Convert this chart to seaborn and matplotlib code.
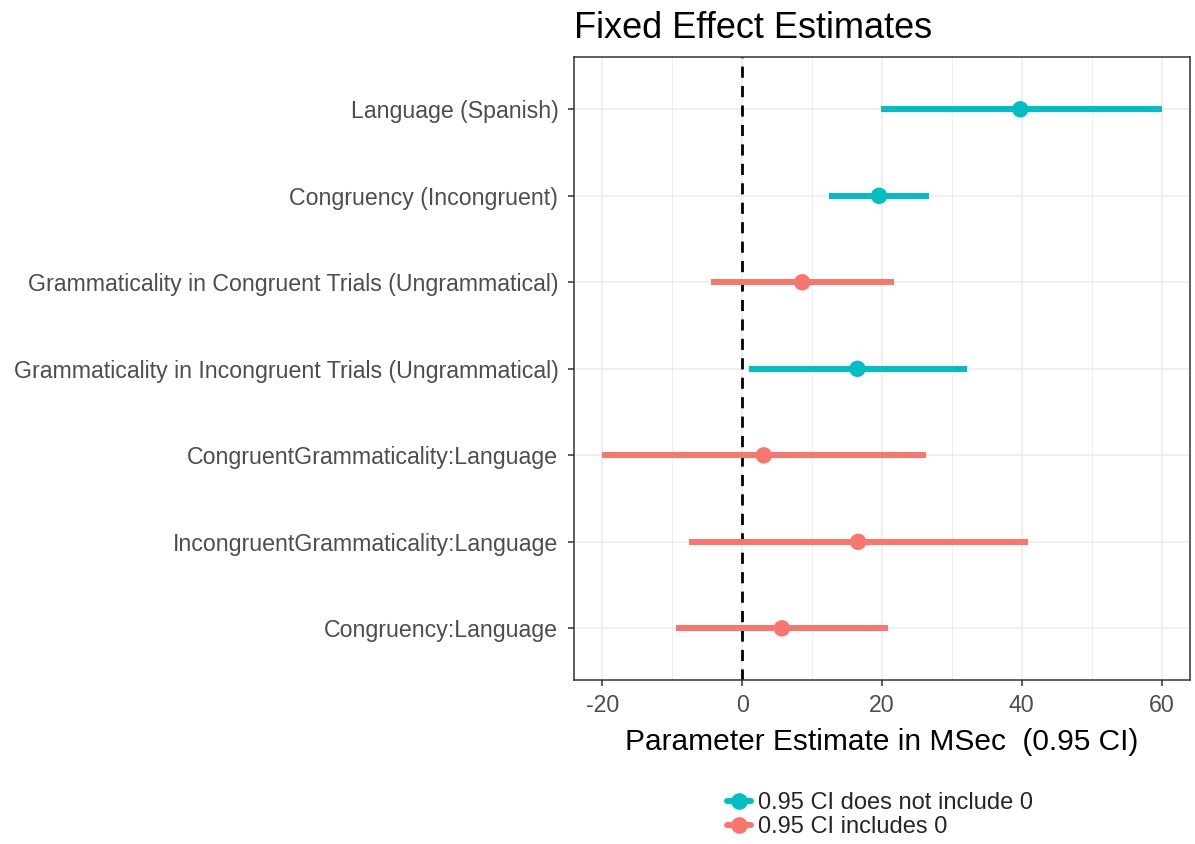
import matplotlib
matplotlib.use("Agg")
import matplotlib.pyplot as plt
import seaborn as sns
import pandas as pd
from matplotlib.lines import Line2D
from matplotlib.ticker import MultipleLocator, FuncFormatter

terms = [
    "Language (Spanish)",
    "Congruency (Incongruent)",
    "Grammaticality in Congruent Trials (Ungrammatical)",
    "Grammaticality in Incongruent Trials (Ungrammatical)",
    "CongruentGrammaticality:Language",
    "IncongruentGrammaticality:Language",
    "Congruency:Language",
]
estimate = [39.8, 19.6, 8.6, 16.5, 3.1, 16.6, 5.7]
ci_low = [19.8, 12.4, -4.4, 1.0, -20.1, -7.6, -9.5]
ci_high = [60.0, 26.8, 21.7, 32.1, 26.3, 40.9, 20.9]
lab_yes = "0.95 CI does not include 0"
lab_no = "0.95 CI includes 0"
group = [lab_yes if (lo > 0 or hi < 0) else lab_no for lo, hi in zip(ci_low, ci_high)]

df = pd.DataFrame({"term": terms, "estimate": estimate, "low": ci_low,
                   "high": ci_high, "group": group})

palette = {lab_yes: "#00BFC4", lab_no: "#F8766D"}

sns.set_theme(style="white")
plt.rcParams["font.family"] = ["Liberation Sans", "DejaVu Sans"]

fig = plt.figure(figsize=(11.95, 8.44), dpi=100)
ax = fig.add_axes([0.480, 0.194, 0.516, 0.738])

ax.set_xlim(-24.1, 64.1)
ax.xaxis.set_major_locator(MultipleLocator(20))
ax.xaxis.set_minor_locator(MultipleLocator(10))
ax.xaxis.set_major_formatter(FuncFormatter(lambda v, p: f"{v:.0f}"))
ax.grid(True, which="major", axis="both", color="#EBEBEB", linewidth=1.1)
ax.grid(True, which="minor", axis="x", color="#EBEBEB", linewidth=0.6)
ax.set_axisbelow(True)

ax.axvline(0, color="black", linestyle=(0, (4, 3)), linewidth=2, zorder=2)

for _, r in df.iterrows():
    ax.hlines(r["term"], r["low"], r["high"], color=palette[r["group"]],
              linewidth=4.3, zorder=3)

sns.scatterplot(data=df, x="estimate", y="term", hue="group", palette=palette,
                s=140, edgecolor="none", ax=ax, legend=False, zorder=4)

ax.set_ylim(len(terms) - 0.4, -0.6)

for sp in ax.spines.values():
    sp.set_color("#333333")
    sp.set_linewidth(1.1)
ax.tick_params(axis="both", which="major", length=4, width=1.1, color="#333333",
               labelsize=16.7, labelcolor="#4D4D4D", bottom=True, left=True)
ax.tick_params(axis="y", which="major", pad=7)
ax.tick_params(axis="x", which="major", pad=6)
ax.tick_params(axis="x", which="minor", length=0)
ax.set_ylabel("")
ax.set_xlabel("Parameter Estimate in MSec  (0.95 CI)", fontsize=21.5, color="black", labelpad=8)
ax.set_title("Fixed Effect Estimates", loc="left", fontsize=26, color="black", pad=14)

handles = [Line2D([0], [0], color=palette[g], linewidth=4.3, marker="o", markersize=11)
           for g in [lab_yes, lab_no]]
fig.legend(handles, [lab_yes, lab_no], loc="center left", bbox_to_anchor=(0.608, 0.034),
           frameon=False, fontsize=17, handlelength=1.05, handletextpad=0.3,
           labelspacing=0.1, borderaxespad=0, borderpad=0)

fig.savefig("out.png", dpi=100)
